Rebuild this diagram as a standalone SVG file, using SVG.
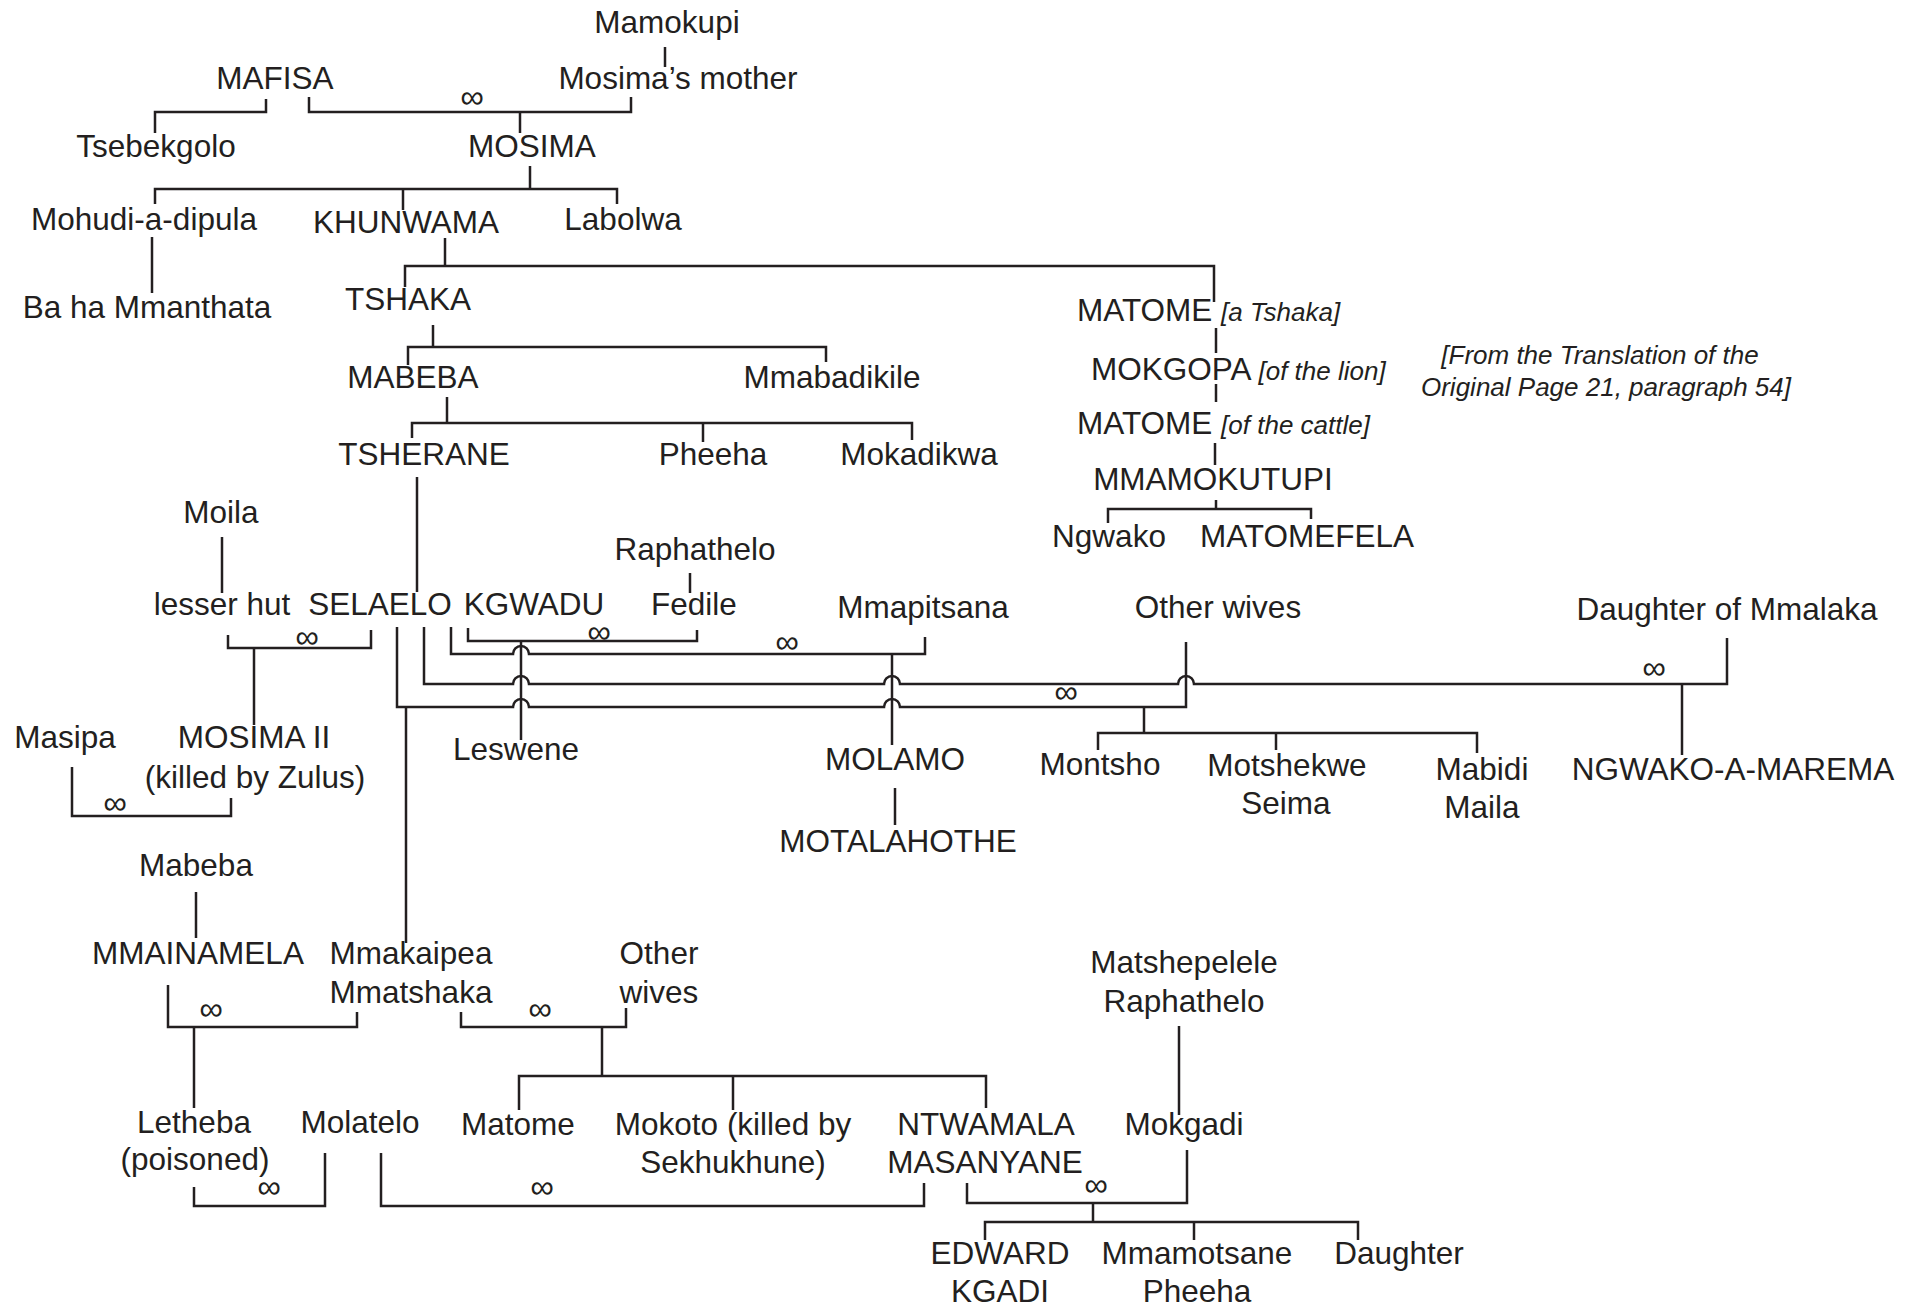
<svg xmlns="http://www.w3.org/2000/svg" width="1922" height="1308" viewBox="0 0 1922 1308">
<style>
text{font-family:"Liberation Sans",Arial,sans-serif;font-size:31.5px;fill:#231f20;text-anchor:middle}
.s{text-anchor:start}
.it{font-style:italic;font-size:26px}
.inf{font-size:33px}
#connectors path{fill:none;stroke:#231f20;stroke-width:2.5}
</style>
<rect width="1922" height="1308" fill="#fff"/>
<g id="connectors">
<path d="M665,47V67"/>
<path d="M309,97V112H631V97"/>
<path d="M520,112V133"/>
<path d="M266,99V112H155V133"/>
<path d="M530,166V189"/>
<path d="M155,204V189H617V204"/>
<path d="M403,189V210"/>
<path d="M152,237V293"/>
<path d="M445,238V266"/>
<path d="M405,287V266H1214V302"/>
<path d="M433,325V347"/>
<path d="M408,365V347H826V362"/>
<path d="M1216,328V353"/>
<path d="M1216,384V402"/>
<path d="M1215,443V465"/>
<path d="M1216,500V509"/>
<path d="M1108,523V509H1311V519"/>
<path d="M447,397V423"/>
<path d="M412,438V423H912V440"/>
<path d="M703,423V442"/>
<path d="M417,477V592"/>
<path d="M222,537V593"/>
<path d="M690,573V593"/>
<path d="M228,635V648H371V630"/>
<path d="M254,648V725"/>
<path d="M72,767V816H231V798"/>
<path d="M468,628V641H697V630"/>
<path d="M521,641V740"/>
<path d="M451,627V654H513A8,8 0 0 1 529,654H925V637"/>
<path d="M424,627V684H513A8,8 0 0 1 529,684H884A8,8 0 0 1 900,684H1178A8,8 0 0 1 1194,684H1727V638"/>
<path d="M397,627V707H513A8,8 0 0 1 529,707H884A8,8 0 0 1 900,707H1186V642"/>
<path d="M406,707V943"/>
<path d="M892,654V745"/>
<path d="M1682,683V755"/>
<path d="M1144,707V733"/>
<path d="M1098,750V733H1477V753"/>
<path d="M1276,733V750"/>
<path d="M895,788V825"/>
<path d="M196,892V938"/>
<path d="M168,985V1027H357V1012"/>
<path d="M194,1027V1108"/>
<path d="M461,1012V1027H626V1008"/>
<path d="M602,1027V1076"/>
<path d="M519,1110V1076H986V1108"/>
<path d="M733,1076V1110"/>
<path d="M194,1187V1206H325V1153"/>
<path d="M381,1153V1206H924V1183"/>
<path d="M1179,1026V1115"/>
<path d="M967,1183V1203H1187V1150"/>
<path d="M1093,1203V1222"/>
<path d="M985,1240V1222H1358V1240"/>
<path d="M1194,1222V1240"/>
</g>
<g id="marriages">
<text class="inf" x="472" y="108">∞</text>
<text class="inf" x="307" y="648">∞</text>
<text class="inf" x="115" y="814">∞</text>
<text class="inf" x="599" y="643">∞</text>
<text class="inf" x="787" y="653">∞</text>
<text class="inf" x="1066" y="703">∞</text>
<text class="inf" x="1654" y="679">∞</text>
<text class="inf" x="211" y="1020">∞</text>
<text class="inf" x="540" y="1020">∞</text>
<text class="inf" x="269" y="1198">∞</text>
<text class="inf" x="542" y="1198">∞</text>
<text class="inf" x="1096" y="1196">∞</text>
</g>
<g id="n-mamokupi"><text x="667" y="33">Mamokupi</text></g>
<g id="n-mafisa"><text x="275" y="89">MAFISA</text></g>
<g id="n-mosimas-mother"><text x="678" y="89">Mosima’s mother</text></g>
<g id="n-tsebekgolo"><text x="156" y="157">Tsebekgolo</text></g>
<g id="n-mosima"><text x="532" y="157">MOSIMA</text></g>
<g id="n-mohudi"><text x="144" y="230">Mohudi-a-dipula</text></g>
<g id="n-khunwama"><text x="406" y="233">KHUNWAMA</text></g>
<g id="n-labolwa"><text x="623" y="230">Labolwa</text></g>
<g id="n-baha"><text x="147" y="318">Ba ha Mmanthata</text></g>
<g id="n-tshaka"><text x="408" y="310">TSHAKA</text></g>
<g id="n-matome1"><text class="s" x="1077" y="321">MATOME <tspan class="it">[a Tshaka]</tspan></text></g>
<g id="n-mokgopa"><text class="s" x="1091" y="380">MOKGOPA <tspan class="it">[of the lion]</tspan></text></g>
<g id="n-matome2"><text class="s" x="1077" y="434">MATOME <tspan class="it">[of the cattle]</tspan></text></g>
<g id="n-mmamokutupi"><text x="1213" y="490">MMAMOKUTUPI</text></g>
<g id="n-ngwako"><text x="1109" y="547">Ngwako</text></g>
<g id="n-matomefela"><text x="1307" y="547">MATOMEFELA</text></g>
<g id="note"><text class="it" x="1600" y="364">[From the Translation of the</text><text class="it" x="1606" y="396">Original Page 21, paragraph 54]</text></g>
<g id="n-mabeba"><text x="413" y="388">MABEBA</text></g>
<g id="n-mmabadikile"><text x="832" y="388">Mmabadikile</text></g>
<g id="n-tsherane"><text x="424" y="465">TSHERANE</text></g>
<g id="n-pheeha"><text x="713" y="465">Pheeha</text></g>
<g id="n-mokadikwa"><text x="919" y="465">Mokadikwa</text></g>
<g id="n-moila"><text x="221" y="523">Moila</text></g>
<g id="n-lesserhut"><text x="222" y="615">lesser hut</text></g>
<g id="n-selaelo"><text x="380" y="615">SELAELO</text></g>
<g id="n-kgwadu"><text x="534" y="615">KGWADU</text></g>
<g id="n-raphathelo1"><text x="695" y="560">Raphathelo</text></g>
<g id="n-fedile"><text x="694" y="615">Fedile</text></g>
<g id="n-mmapitsana"><text x="923" y="618">Mmapitsana</text></g>
<g id="n-otherwives1"><text x="1218" y="618">Other wives</text></g>
<g id="n-daughter-mmalaka"><text x="1727" y="620">Daughter of Mmalaka</text></g>
<g id="n-masipa"><text x="65" y="748">Masipa</text></g>
<g id="n-mosima2"><text x="254" y="748">MOSIMA II</text><text x="255" y="788">(killed by Zulus)</text></g>
<g id="n-leswene"><text x="516" y="760">Leswene</text></g>
<g id="n-molamo"><text x="895" y="770">MOLAMO</text></g>
<g id="n-motalahothe"><text x="898" y="852">MOTALAHOTHE</text></g>
<g id="n-montsho"><text x="1100" y="775">Montsho</text></g>
<g id="n-motshekwe"><text x="1287" y="776">Motshekwe</text><text x="1286" y="814">Seima</text></g>
<g id="n-mabidi"><text x="1482" y="780">Mabidi</text><text x="1482" y="818">Maila</text></g>
<g id="n-ngwako-a-marema"><text x="1733" y="780">NGWAKO-A-MAREMA</text></g>
<g id="n-mabeba2"><text x="196" y="876">Mabeba</text></g>
<g id="n-mmainamela"><text x="198" y="964">MMAINAMELA</text></g>
<g id="n-mmakaipea"><text x="411" y="964">Mmakaipea</text><text x="411" y="1003">Mmatshaka</text></g>
<g id="n-otherwives2"><text x="659" y="964">Other</text><text x="659" y="1003">wives</text></g>
<g id="n-letheba"><text x="194" y="1133">Letheba</text><text x="195" y="1170">(poisoned)</text></g>
<g id="n-molatelo"><text x="360" y="1133">Molatelo</text></g>
<g id="n-matome3"><text x="518" y="1135">Matome</text></g>
<g id="n-mokoto"><text x="733" y="1135">Mokoto (killed by</text><text x="733" y="1173">Sekhukhune)</text></g>
<g id="n-ntwamala"><text x="986" y="1135">NTWAMALA</text><text x="985" y="1173">MASANYANE</text></g>
<g id="n-matshepelele"><text x="1184" y="973">Matshepelele</text><text x="1184" y="1012">Raphathelo</text></g>
<g id="n-mokgadi"><text x="1184" y="1135">Mokgadi</text></g>
<g id="n-edward"><text x="1000" y="1264">EDWARD</text><text x="1000" y="1302">KGADI</text></g>
<g id="n-mmamotsane"><text x="1197" y="1264">Mmamotsane</text><text x="1197" y="1302">Pheeha</text></g>
<g id="n-daughter"><text x="1399" y="1264">Daughter</text></g>
</svg>
